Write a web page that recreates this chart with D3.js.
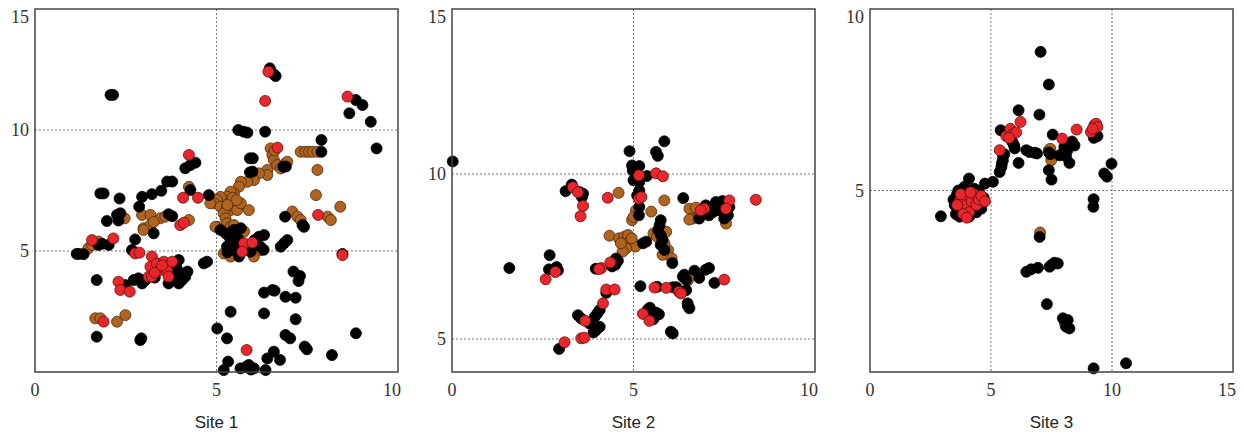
<html>
<head>
<meta charset="UTF-8">
<script src="https://unpkg.com/d3@7/dist/d3.min.js"></script>
<style>body{margin:0;background:#fff}</style>
</head>
<body>
<script>
var width = 1244, height = 436;

// axis setup per site
var siteNames = ["Site 1", "Site 2", "Site 3"];
var xDomains = [[0, 10], [0, 10], [0, 15]];
var yDomains = [[0, 15], [4, 15], [0, 10]];
var xTicks = [[0, 5, 10], [0, 5, 10], [0, 5, 10, 15]];
var yTicks = [[5, 10, 15], [5, 10, 15], [5, 10]];

// Site 1 points
var site1Black = [[2.08,11.45],[2.15,11.45],[6.47,12.55],[6.58,12.3],[6.63,12.23],
  [8.84,11.24],[9.02,11.03],[8.66,10.69],[9.25,10.34],[9.41,9.24],
  [5.6,10],[5.75,9.93],[5.85,9.89],[6.34,9.93],[7.89,9.59],[7.89,9.1],
  [5.92,8.83],[6.0,8.83],[5.92,8.25],[5.99,8.28],[6.84,8.48],[6.91,8.49],
  [6.89,6.42],[7.37,6.07],[7.41,6.0],[6.77,5.18],[6.86,5.32],[6.95,5.45],[8.47,4.88],
  [5.25,5.73],[5.48,5.87],[5.67,5.94],[5.39,5.45],[5.57,5.32],[5.29,5.18],[5.48,5.04],
  [5.76,5.04],[5.94,4.97],[6.17,5.59],[6.31,5.66],[6.21,5.18],[5.62,4.77],[5.35,5.6],
  [5.45,5.25],[5.6,5.5],[5.3,4.95],[5.85,5.2],[6.05,5.45],[6.3,5.05],[5.11,5.87],[4.79,7.31],
  [7.12,4.15],[7.3,3.97],[7.26,3.76],[6.31,3.28],[6.54,3.39],[6.6,3.36],[6.9,3.11],[7.18,3.07],
  [5.39,2.49],[6.31,2.42],[7.18,2.18],[5.02,1.8],[5.29,1.39],[6.9,1.53],[7.03,1.39],
  [7.43,1.05],[7.49,0.94],[8.84,1.6],[8.18,0.7],[6.4,0.56],[6.58,0.84],[6.75,0.5],
  [5.32,0.43],[5.2,0.08],[5.66,0.15],[5.89,0.29],[6.03,0.15],[6.35,0.08],[5.8,0.2],[5.95,0.1],
  [1.15,4.88],[1.22,4.88],[1.34,4.87],[1.75,5.25],[2.03,5.25],[1.85,5.3],
  [2.76,5.48],[3.27,5.73],[2.67,5.04],[1.98,6.24],[2.26,6.49],[2.35,6.56],[2.3,6.26],
  [2.33,7.17],[1.8,7.38],[1.89,7.38],[2.87,6.83],[2.95,7.24],[3.22,7.35],[3.48,7.49],
  [3.64,7.87],[3.78,7.87],[4.14,8.42],[4.28,8.55],[4.42,8.65],[4.28,7.52],[3.68,6.52],[3.78,6.44],
  [1.7,3.8],[1.7,1.46],[2.93,1.39],[2.9,1.32],[2.49,3.59],
  [2.85,3.87],[2.72,3.8],[2.95,3.66],[3.04,3.8],[3.96,4.63],[4.05,4.07],[3.87,3.8],[4.14,3.94],
  [4.2,4.15],[3.96,3.66],[3.68,3.66],[3.8,3.9],[3.9,4.3],[3.3,3.9],[4.05,3.8],[3.75,4.05],
  [4.65,4.49],[4.74,4.56]];
var site1Brown = [[7.32,9.1],[7.45,9.1],[7.55,9.1],[7.65,9.1],[7.78,9.1],
  [6.49,9.24],[6.54,8.97],[6.58,8.76],[6.67,8.55],[6.77,8.41],[6.9,8.62],[6.95,8.69],[6.6,9.15],
  [6.4,8.35],[6.4,8.14],[6.17,8.21],[6.03,7.93],[5.85,7.86],[5.67,7.86],[5.62,7.66],[5.48,7.38],
  [5.39,7.45],[5.29,7.24],[5.2,7.11],[5.11,7.24],[5.02,7.11],[4.93,6.97],[4.83,6.97],[5.11,6.83],
  [5.29,6.83],[5.39,6.69],[5.48,6.83],[5.57,6.69],[5.67,6.97],[5.89,6.69],[5.2,6.55],[5.25,6.35],
  [5.29,6.14],[5.39,6.0],[5.48,6.07],[5.02,6.0],[5.35,7.0],[5.45,7.2],[5.55,7.1],[5.3,6.9],
  [5.76,5.8],[5.2,4.9],[5.39,4.77],[6.03,4.77],[6.21,5.04],[5.5,5.7],
  [7.78,8.35],[7.74,7.31],[8.41,6.83],[7.09,6.63],[7.23,6.42],[7.32,6.28],[8.06,6.42],[8.15,6.28],
  [1.47,5.11],[1.57,5.25],[1.75,5.39],[2.47,6.35],[2.95,6.49],[3.18,6.49],[3.45,6.35],[3.59,6.42],
  [2.99,5.94],[3.18,6.08],[3.27,6.2],[2.99,5.87],[4.24,7.65],[4.24,6.28],[4.97,6.0],
  [1.66,2.22],[1.8,2.22],[2.26,2.08],[2.49,2.35]];
var site1Red = [[6.43,12.41],[6.34,11.2],[8.61,11.38],[6.68,9.27],[7.8,6.49],[8.47,4.83],
  [5.76,5.32],[5.99,5.35],[5.71,4.97],[5.83,0.91],[4.24,8.97],[4.08,7.2],[4.49,7.2],
  [4.0,6.07],[4.1,6.17],[1.57,5.45],[2.16,5.52],[2.76,4.9],[2.88,4.93],
  [3.22,4.77],[3.18,4.35],[3.13,3.94],[3.36,4.49],[3.45,4.21],[3.55,4.56],[3.64,4.21],
  [3.68,3.94],[3.78,4.56],[3.22,3.94],[3.3,4.1],[3.5,4.4],
  [2.3,3.73],[2.35,3.39],[2.61,3.32],[1.89,2.08]];

// Site 2 points
var site2Black = [[0.02,10.38],[1.58,7.15],[2.69,7.54],[2.67,7.11],[2.88,7.18],[2.92,7.08],
  [3.13,9.48],[3.3,9.68],[3.52,9.45],[3.61,9.4],[3.58,9.3],
  [3.96,7.13],[4.41,7.2],[4.57,7.37],[4.5,7.25],[4.25,6.4],
  [4.07,5.88],[3.93,5.67],[3.79,5.47],[4.0,5.77],[3.47,5.72],[3.56,5.62],[3.97,5.27],[4.07,5.37],[3.9,5.2],
  [2.95,4.7],[4.89,10.69],[4.96,10.26],[5.16,10.24],[4.98,10.1],[5.0,9.81],[5.16,9.76],[5.37,9.94],
  [5.62,10.67],[5.67,10.55],[5.85,10.99],[5.16,9.5],[5.1,9.35],[5.16,9.0],[5.15,8.75],
  [5.26,7.9],[5.35,7.95],[4.52,7.44],
  [5.75,8.6],[5.72,8.45],[5.68,8.3],[5.75,8.15],[5.8,8.0],[5.85,7.7],[5.75,7.85],[6.07,7.3],
  [6.37,9.27],[6.81,8.65],[6.99,9.05],[7.08,8.75],[7.27,9.15],[7.45,9.18],[7.64,9.0],[7.6,8.75],
  [7.5,8.65],[7.2,8.85],[7.35,8.9],
  [6.36,6.89],[6.45,6.79],[6.68,7.07],[6.81,6.85],[6.99,7.1],[7.08,7.15],[7.23,6.7],[6.4,6.95],
  [5.19,6.6],[5.65,6.58],[6.08,6.57],[6.18,6.57],[6.45,6.48],[6.49,6.08],[6.54,5.93],[6.5,6.0],
  [5.45,5.95],[5.62,5.8],[5.7,5.75],[5.4,5.9],[5.55,5.6],[6.08,5.17],[6.03,5.22]];
var site2Brown = [[4.59,9.43],[4.34,8.13],[4.96,8.6],[5.07,8.9],[5.0,8.7],
  [4.6,8.05],[4.75,8.1],[4.85,8.15],[4.9,7.95],[5.0,7.9],[5.05,7.8],[4.8,7.75],[4.7,7.65],
  [4.95,8.05],[4.65,7.9],[5.49,8.86],[5.85,9.2],
  [5.55,8.2],[5.65,8.1],[5.9,8.25],[5.95,7.7],[6.05,7.45],[5.85,7.9],[5.8,7.55],
  [6.54,8.95],[6.63,8.65],[6.54,8.62],[6.72,8.98],[7.55,8.5],[7.3,9.1],[6.8,8.7],[6.5,6.78]];
var site2Red = [[2.85,7.03],[2.58,6.81],[3.33,9.6],[3.47,9.45],[3.61,9.03],[3.54,8.72],[4.29,9.28],
  [4.11,7.15],[4.36,7.32],[4.05,7.12],[4.25,6.5],[4.48,6.5],[4.16,6.08],[3.67,5.55],
  [3.56,5.02],[3.65,5.04],[3.1,4.9],[5.15,9.96],[5.62,10.02],[5.81,9.93],[5.15,9.25],[5.22,9.3],
  [6.95,8.95],[7.64,9.2],[7.55,8.95],[6.85,8.9],[8.37,9.22],[7.5,6.8],
  [5.58,6.56],[5.9,6.55],[6.25,6.43],[6.31,6.38],[5.26,5.76],[5.44,5.55]];

// Site 3 points
var site3Black = [[7.05,8.82],[7.39,7.92],[6.14,7.21],[7.0,7.09],
  [5.4,6.66],[5.88,6.34],[5.98,6.16],[5.95,6.25],[5.49,5.83],[5.43,5.65],[5.36,5.51],[5.5,5.95],
  [5.45,5.75],[5.55,6.0],[6.14,5.76],[6.46,6.11],[6.59,6.06],[6.8,6.04],[6.9,6.02],[7.55,6.54],
  [9.3,6.6],[9.4,6.5],[9.25,6.45],
  [8.03,6.2],[8.24,6.29],[8.45,6.24],[8.1,5.94],[8.24,5.76],[7.97,6.02],[7.83,5.97],[8.15,6.1],[8.35,6.35],
  [7.4,6.05],[7.45,6.0],[7.39,5.56],[7.5,5.3],[9.68,5.47],[9.79,5.38],[9.98,5.74],
  [9.24,4.76],[9.23,4.55],[4.75,5.19],[5.08,5.24],
  [4.09,5.33],[3.6,4.9],[3.5,4.6],[3.55,4.35],[3.7,4.28],[4.1,4.28],[4.4,4.4],[4.6,4.5],
  [4.7,4.8],[4.3,5.05],[3.9,5.1],[3.65,5.0],[4.5,5.0],[3.45,4.75],[2.93,4.29],
  [7.01,3.72],[6.46,2.76],[6.66,2.83],[6.94,2.87],[7.42,2.9],[7.62,3.01],[7.76,2.99],[7.5,2.95],
  [7.31,1.87],[7.97,1.48],[8.17,1.43],[8.24,1.2],[8.1,1.25],[9.24,0.1],[10.58,0.24]];
var site3Brown = [[7.39,6.11],[7.49,5.83],[7.45,6.15],[7.03,3.84],[8.05,1.35]];
var site3Red = [[6.22,6.89],[5.63,6.5],[5.8,6.7],[5.9,6.55],[6.04,6.6],[5.75,6.45],[5.36,6.11],
  [7.94,6.43],[8.54,6.68],[9.27,6.8],[9.34,6.84],[9.4,6.75],[9.13,6.61],[9.2,6.7],
  [3.7,4.7],[3.8,4.55],[3.9,4.8],[4.0,4.6],[4.1,4.4],[4.2,4.7],[4.3,4.9],[4.4,4.6],
  [4.5,4.75],[4.6,4.85],[4.75,4.7],[3.85,4.35],[4.0,4.25],[3.75,4.9],[4.15,4.95],[3.6,4.6]];

var blackSets = [site1Black, site2Black, site3Black];
var brownSets = [site1Brown, site2Brown, site3Brown];
var redSets = [site1Red, site2Red, site3Red];

// plot box positions
var lefts = [35, 452, 870];
var plotW = 363, plotTop = 9, plotBottom = 372;

var svg = d3.select('body').append('svg')
  .attr('width', width).attr('height', height);

siteNames.forEach(function(name, i){
  var x = d3.scaleLinear().domain(xDomains[i]).range([lefts[i], lefts[i] + plotW]);
  var y = d3.scaleLinear().domain(yDomains[i]).range([plotBottom, plotTop]);
  var g = svg.append('g');

  // dotted grid at inner ticks
  g.selectAll('.gx').data(xTicks[i].filter(function(t){ return t > xDomains[i][0] && t < xDomains[i][1]; }))
    .enter().append('line')
    .attr('x1', x).attr('x2', x).attr('y1', plotTop).attr('y2', plotBottom)
    .style('stroke', '#777').style('stroke-width', 1).style('stroke-dasharray', '2,2');
  g.selectAll('.gy').data(yTicks[i].filter(function(t){ return t > yDomains[i][0] && t < yDomains[i][1]; }))
    .enter().append('line')
    .attr('y1', y).attr('y2', y).attr('x1', lefts[i]).attr('x2', lefts[i] + plotW)
    .style('stroke', '#777').style('stroke-width', 1).style('stroke-dasharray', '2,2');

  // points: brown, then black, then red on top
  function dots(data, fill, stroke){
    g.append('g').selectAll('circle').data(data).enter().append('circle')
      .attr('cx', function(d){ return x(d[0]); })
      .attr('cy', function(d){ return y(d[1]); })
      .attr('r', 5.5)
      .style('fill', fill)
      .style('stroke', stroke)
      .style('stroke-width', 0.8);
  }
  dots(brownSets[i], '#b0641f', '#4a2a0c');
  dots(blackSets[i], '#000', '#000');
  dots(redSets[i], '#e8262b', '#5a1212');

  // frame
  g.append('rect')
    .attr('x', lefts[i]).attr('y', plotTop)
    .attr('width', plotW).attr('height', plotBottom - plotTop)
    .style('fill', 'none').style('stroke', '#444').style('stroke-width', 1.5);

  // tick labels
  g.selectAll('.ty').data(yTicks[i]).enter().append('text')
    .attr('x', lefts[i] - 6)
    .attr('y', function(d){ return y(d) + (d === yDomains[i][1] ? 8 : 0); })
    .attr('dy', '0.35em')
    .attr('text-anchor', 'end')
    .style('font-family', '"Liberation Serif", serif').style('font-size', '18px').style('fill', '#333')
    .text(function(d){ return d; });
  g.selectAll('.tx').data(xTicks[i]).enter().append('text')
    .attr('x', function(d){ return x(d) - (d === xDomains[i][1] ? 6 : 0); })
    .attr('y', plotBottom + 24)
    .attr('text-anchor', 'middle')
    .style('font-family', '"Liberation Serif", serif').style('font-size', '18px').style('fill', '#333')
    .text(function(d){ return d; });

  g.append('text')
    .attr('x', lefts[i] + plotW / 2)
    .attr('y', 428)
    .attr('text-anchor', 'middle')
    .style('font-family', '"Liberation Sans", Arial, sans-serif').style('font-size', '17px').style('fill', '#222')
    .text(name);
});
</script>
</body>
</html>
